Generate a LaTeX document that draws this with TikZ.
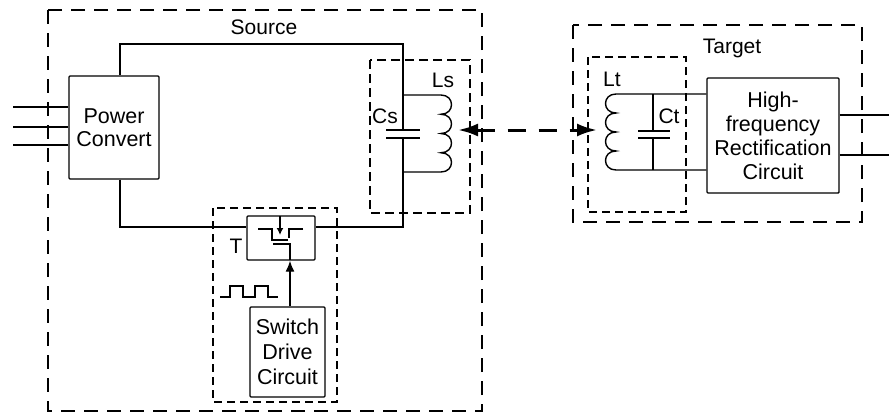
\documentclass[tikz,border=0pt]{standalone}
\usepackage{fontspec}
\setmainfont{Liberation Sans}
\usetikzlibrary{arrows.meta}
\begin{document}
\begin{tikzpicture}[x=1pt,y=-1pt,
  wire/.style={line width=1.4pt},
  thinwire/.style={line width=1.1pt},
  blk/.style={draw, line width=1.4pt, rounded corners=1pt, inner sep=0pt, align=center,
    font=\fontsize{21.5}{23.5}\selectfont},
  outerdash/.style={draw, line width=1.4pt, dash pattern=on 14pt off 9pt},
  innerdash/.style={draw, line width=1.4pt, dash pattern=on 8pt off 5pt},
  boldinnerdash/.style={draw, line width=2.2pt, dash pattern=on 9pt off 5pt},
  lbl/.style={font=\fontsize{21}{23}\selectfont, inner sep=0pt},
  coil/.style={line width=1.4pt}]
\useasboundingbox (0,0) rectangle (889,415);

% dashed enclosures
\draw[outerdash] (48,10) rectangle (482,411);
\draw[outerdash] (573,25) rectangle (862,222);
\draw[boldinnerdash] (370,60) rectangle (470,213);
\draw[innerdash] (588,57) rectangle (686,212);
\draw[innerdash] (213,208) rectangle (337,402);

% blocks
\node[blk, minimum width=90pt, minimum height=103pt] (pc) at (114,127.5) {Power\\Convert};
\node[blk, minimum width=132pt, minimum height=115pt, font=\fontsize{21.5}{24}\selectfont] (hf) at (773,135.5) {High-\\frequency\\Rectification\\Circuit};
\node[blk, minimum width=75pt, minimum height=90pt, font=\fontsize{21.5}{25}\selectfont] (sdc) at (287.5,352) {Switch\\Drive\\Circuit};
\node[blk, minimum width=68pt, minimum height=44pt] (T) at (281,238) {};

% labels
\node[lbl] (src) at (264,27) {Source};
\node[lbl] (tgt) at (732,48) {Target};
\node[lbl] (cs) at (385,116) {Cs};
\node[lbl] (ls) at (443,80) {Ls};
\node[lbl] (lt) at (612,79) {Lt};
\node[lbl] (ct) at (669,116) {Ct};
\node[lbl] (tl) at (236,246) {T};

% input and output lines
\foreach \yy in {107,127,145} \draw[wire] (13,\yy) -- (pc.west |- 0,\yy);
\foreach \yy in {115,155} \draw[wire] (hf.east |- 0,\yy) -- (889,\yy);

% source loop
\draw[wire] ([xshift=6pt]pc.north) -- (120,44) -- (403,44) -- (403,130);
\draw[wire] (386,130) -- (420,130);
\draw[wire] (386,138) -- (420,138);
\draw[wire] (403,138) -- (403,227) -- (T.east |- 0,227);
\draw[wire] ([xshift=6pt]pc.south) -- (120,227) -- (T.west |- 0,227);

% Ls coil
\draw[coil] (403,95) -- (441,95)
  .. controls (455,95) and (455,114.25) .. (441,114.25)
  .. controls (455,114.25) and (455,133.5) .. (441,133.5)
  .. controls (455,133.5) and (455,152.75) .. (441,152.75)
  .. controls (455,152.75) and (455,172) .. (441,172) -- (403,172);

% Lt coil and Ct
\draw[coil] (hf.west |- 0,94) -- (616,94)
  .. controls (602,94) and (602,113) .. (616,113)
  .. controls (602,113) and (602,132) .. (616,132)
  .. controls (602,132) and (602,151) .. (616,151)
  .. controls (602,151) and (602,170) .. (616,170) -- (hf.west |- 0,170);
\draw[wire] (653,94) -- (653,131);
\draw[wire] (653,138) -- (653,170);
\draw[wire] (638,131) -- (670,131);
\draw[wire] (638,138) -- (670,138);

% coupling arrow
\coordinate (lsr) at (458,130);
\coordinate (ltl) at (597,130);
\draw[line width=3pt, dash pattern=on 18pt off 13pt, {Latex[length=20pt,width=13pt]}-{Latex[length=20pt,width=13pt]}] (lsr) -- (ltl);

% MOSFET symbol
\draw[wire, -{Latex[length=7pt,width=7pt]}] (280,216) -- (280,235);
\draw[wire] (258,229) -- (272,229) -- (272,240) -- (288,240);
\draw[wire] (303,229) -- (289,229) -- (289,238);
\draw[wire] (273,244) -- (290,244) -- (290,260);

% gate drive
\draw[wire, -{Latex[length=11pt,width=9pt]}] (sdc.north -| 290,0) -- (T.south -| 290,0);
\draw[thinwire] (220,297) -- (230,297) -- (230,286) -- (243,286) -- (243,297) -- (255,297) -- (255,286) -- (268,286) -- (268,297) -- (278,297);
\end{tikzpicture}
\end{document}
